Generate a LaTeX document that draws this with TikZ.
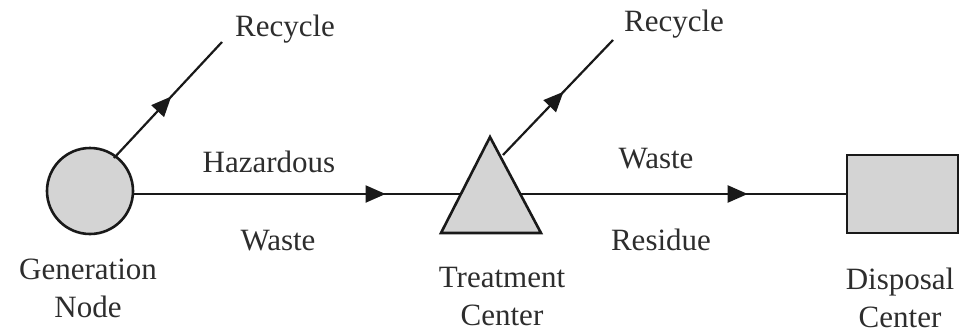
\documentclass[tikz,border=0pt]{standalone}
\usepackage{fontspec}
\setmainfont{Liberation Serif}
\usetikzlibrary{arrows.meta,decorations.markings}
\definecolor{shapegray}{RGB}{212,212,212}
\definecolor{inkc}{RGB}{25,25,25}
\definecolor{txtc}{RGB}{45,45,45}
\tikzset{
  lbl/.style={font=\fontsize{31}{38}\selectfont, text=txtc, inner sep=0pt, anchor=base, align=center},
  flow/.style={line width=2.2pt, draw=inkc},
  shapebox/.style={line width=2.6pt, draw=inkc, fill=shapegray},
  midarrow/.style={postaction={decorate}, decoration={markings, mark=at position #1 with {\arrow{Triangle[length=20pt,width=17pt]}}}}
}
\begin{document}
\begin{tikzpicture}[x=1pt,y=-1pt]
\useasboundingbox (0,0) rectangle (961,335);
% shapes
\node[shapebox, circle, minimum size=86pt, inner sep=0pt] (gen) at (90,191) {};
\draw[shapebox, line join=miter] (490,137) coordinate (triTop) -- (541,233) coordinate (triBR) -- (441,233) coordinate (triBL) -- cycle;
\coordinate (triL) at (461,194);
\coordinate (triR) at (519,194);
\coordinate (triUp) at (503,155);
\node[shapebox, rectangle, minimum width=111pt, minimum height=78pt, inner sep=0pt] (disp) at (902.5,194) {};
% free ends
\coordinate (rec1end) at (222,42);
\coordinate (rec2end) at (613,40);
\coordinate (genL) at (133,194);
\coordinate (genUp) at (114,158);
% connectors
\draw[flow, midarrow=0.77] (genL) -- (triL);
\draw[flow, midarrow=0.70] (triR) -- (disp.west);
\draw[flow, midarrow=0.53] (genUp) -- (rec1end);
\draw[flow, midarrow=0.55] (triUp) -- (rec2end);
% labels
\node[lbl] (rec1) at (285,36) {Recycle};
\node[lbl] (rec2) at (674,31) {Recycle};
\node[lbl] (haz) at (269,172) {Hazardous};
\node[lbl] (w1) at (278,250) {Waste};
\node[lbl] (w2) at (656,168) {Waste};
\node[lbl] (res) at (661,250) {Residue};
\node[lbl] (genl) at (88,317) {Generation\\Node};
\node[lbl] (trl) at (502,325) {Treatment\\Center};
\node[lbl] (dsl) at (900,327) {Disposal\\Center};
\end{tikzpicture}
\end{document}
